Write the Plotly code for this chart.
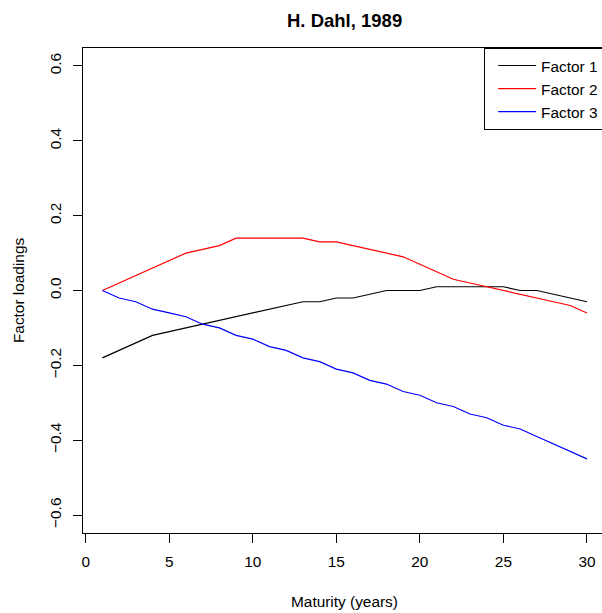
import plotly.graph_objects as go

# Maturities (years) and the loadings of the three factors
maturity = list(range(1, 31))
factor1 = [-0.18, -0.16, -0.14, -0.12, -0.11, -0.10, -0.09, -0.08, -0.07, -0.06,
           -0.05, -0.04, -0.03, -0.03, -0.02, -0.02, -0.01, 0.00, 0.00, 0.00,
           0.01, 0.01, 0.01, 0.01, 0.01, 0.00, 0.00, -0.01, -0.02, -0.03]
factor2 = [0.00, 0.02, 0.04, 0.06, 0.08, 0.10, 0.11, 0.12, 0.14, 0.14,
           0.14, 0.14, 0.14, 0.13, 0.13, 0.12, 0.11, 0.10, 0.09, 0.07,
           0.05, 0.03, 0.02, 0.01, 0.00, -0.01, -0.02, -0.03, -0.04, -0.06]
factor3 = [0.00, -0.02, -0.03, -0.05, -0.06, -0.07, -0.09, -0.10, -0.12, -0.13,
           -0.15, -0.16, -0.18, -0.19, -0.21, -0.22, -0.24, -0.25, -0.27, -0.28,
           -0.30, -0.31, -0.33, -0.34, -0.36, -0.37, -0.39, -0.41, -0.43, -0.45]

series_names = ["Factor 1", "Factor 2", "Factor 3"]
series_colors = ["black", "red", "blue"]
x_ticks = [0, 5, 10, 15, 20, 25, 30]
y_ticks = [-0.6, -0.4, -0.2, 0.0, 0.2, 0.4, 0.6]

FONT = "Liberation Sans, Arial, Helvetica, sans-serif"

fig = go.Figure()
for name, color, vals in zip(series_names, series_colors,
                             [factor1, factor2, factor3]):
    fig.add_trace(go.Scatter(x=maturity, y=vals, mode="lines", name=name,
                             line=dict(color=color, width=1.2)))

W, H = 602, 613
ML, MR, MT, MB = 82.5, 0, 47.5, 80

fig.update_layout(
    width=W, height=H,
    margin=dict(l=ML, r=MR, t=MT, b=MB, pad=0, autoexpand=False),
    paper_bgcolor="white", plot_bgcolor="white",
    font=dict(family=FONT, size=15.4, color="black"),
    showlegend=True,
    legend=dict(
        x=(484 - ML) / (W - ML - MR), y=1, xanchor="left", yanchor="top",
        bordercolor="black", borderwidth=1, bgcolor="white",
        font=dict(family=FONT, size=15.4, color="black"),
        indentation=8, itemwidth=38, entrywidth=100,
        tracegroupgap=0,
    ),
    xaxis=dict(
        range=[-0.16, 30.9], tickvals=x_ticks, ticks="outside", ticklen=9,
        tickcolor="black", tickwidth=1, showgrid=False, zeroline=False,
        showline=True, linecolor="black", linewidth=1, mirror=True,
        ticklabelstandoff=6,
        tickfont=dict(family=FONT, size=15.4),
    ),
    yaxis=dict(
        range=[-0.648, 0.648], tickvals=y_ticks, tickformat=".1f",
        ticks="outside", ticklen=9, tickcolor="black", tickwidth=1,
        tickangle=-90, showgrid=False, zeroline=False,
        showline=True, linecolor="black", linewidth=1,
        ticklabelstandoff=6,
        tickfont=dict(family=FONT, size=15.4),
    ),
    annotations=[
        dict(text="<b>H. Dahl, 1989</b>", xref="paper", yref="paper",
             x=(344 - ML) / (W - ML - MR), y=1 + (MT - 20) / (H - MT - MB),
             xanchor="center", yanchor="middle", showarrow=False,
             font=dict(family=FONT, size=18.5)),
        dict(text="Maturity (years)", xref="paper", yref="paper",
             x=(344 - ML) / (W - ML - MR), y=-(602 - (H - MB)) / (H - MT - MB),
             xanchor="center", yanchor="middle", showarrow=False,
             font=dict(family=FONT, size=15.4)),
        dict(text="Factor loadings", xref="paper", yref="paper",
             x=-(ML - 18) / (W - ML - MR), y=0.5, textangle=-90,
             xanchor="center", yanchor="middle", showarrow=False,
             font=dict(family=FONT, size=15.4)),
    ],
)

fig.write_html("out.html")
